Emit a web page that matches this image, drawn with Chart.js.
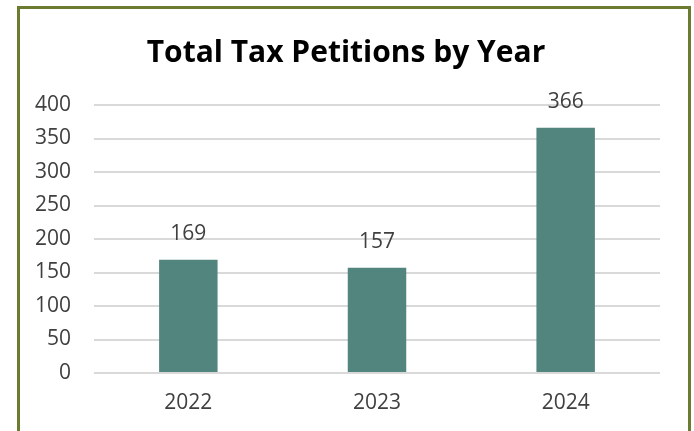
<!DOCTYPE html>
<html>
<head>
<meta charset="utf-8">
<script src="https://cdn.jsdelivr.net/npm/chart.js@4/dist/chart.umd.min.js"></script>
<style>
  body { margin: 0; background: #fff; }
  #frame {
    position: absolute; left: 17px; top: 6px;
    width: 668px; height: 440px;
    border: 3px solid #6b7b2f;
  }
</style>
</head>
<body>
<div id="frame"><canvas id="petitions" width="668" height="425"></canvas></div>
<script>
// data
const years = ['2022', '2023', '2024'];
const petitions = [169, 157, 366];

const font = "'Open Sans', sans-serif";

// value labels above bars
const barLabels = {
    id: 'barLabels',
    afterDatasetsDraw(chart) {
        const ctx = chart.ctx;
        const meta = chart.getDatasetMeta(0);
        ctx.save();
        ctx.font = '21px ' + font;
        ctx.fillStyle = '#404040';
        ctx.textAlign = 'center';
        ctx.textBaseline = 'middle';
        meta.data.forEach((bar, i) => {
            ctx.fillText(petitions[i], bar.x, bar.y - 26);
        });
        ctx.restore();
    }
};

const config = {
    type: 'bar',
    data: {
        labels: years,
        datasets: [{
            data: petitions,
            backgroundColor: '#53857f',
            categoryPercentage: 1,
            barPercentage: 0.31
        }]
    },
    options: {
        responsive: false,
        animation: false,
        layout: { padding: { left: 12, right: 28, top: 0, bottom: 0 } },
        plugins: {
            legend: { display: false },
            tooltip: { enabled: false },
            title: {
                display: true,
                text: 'Total Tax Petitions by Year',
                color: '#000',
                font: { family: font, size: 30, weight: 'bold', lineHeight: 1.2 },
                padding: { top: 26, bottom: 34 }
            }
        },
        scales: {
            x: {
                grid: { display: false, drawTicks: false },
                border: { display: false },
                ticks: { color: '#404040', font: { family: font, size: 21 }, padding: 17 },
                afterFit(scale) { scale.height = 61; }
            },
            y: {
                min: 0,
                max: 400,
                ticks: { stepSize: 50, color: '#404040', font: { family: font, size: 21 }, padding: 23 },
                grid: { color: '#d9d9d9', lineWidth: 2, drawTicks: false },
                border: { display: false },
                afterFit(scale) { scale.width = 62; }
            }
        }
    },
    plugins: [barLabels]
};

new Chart(document.getElementById('petitions'), config);
</script>
</body>
</html>
